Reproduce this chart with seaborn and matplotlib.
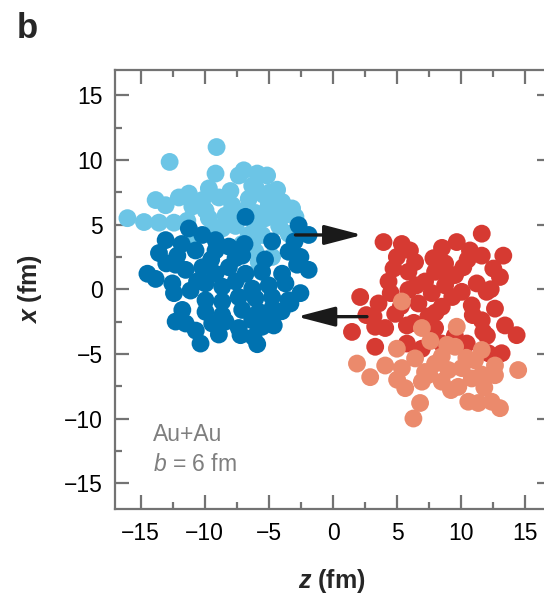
import numpy as np
import pandas as pd
import matplotlib
matplotlib.use("Agg")
import matplotlib.pyplot as plt
from matplotlib.ticker import MultipleLocator
import seaborn as sns

# ---- data (z, x in fm) ----
target_spec_z = [-9.08, -12.74, -9.16, -7.35, -6.96, -5.91, -5.14, -6.30, -4.36, -9.68,
                 -12.02, -11.24, -13.83, -13.05, -10.19, -8.90, -7.86, -6.57, -5.40, -5.01,
                 -3.97, -3.19, -10.97, -9.94, -16.03, -14.74, -13.57, -12.40, -11.36, -9.68,
                 -8.38, -7.21, -6.05, -4.62, -3.84, -2.93, -8.64, -6.05, -5.27, -3.46,
                 -6.57, -5.53, -10.97, -7.08, -6.05, -4.75, -5.79, -6.30,
                 -8.0, -6.0, -4.9, -7.6, -9.3, -4.2]
target_spec_x = [11.0, 9.85, 8.95, 8.8, 9.2, 8.95, 8.8, 8.0, 7.7, 7.8,
                 7.1, 7.4, 6.9, 6.5, 6.9, 7.1, 6.5, 7.0, 7.3, 6.5,
                 6.75, 6.25, 6.4, 6.1, 5.5, 5.2, 5.15, 5.15, 5.3, 5.5,
                 5.7, 6.0, 5.9, 6.1, 5.7, 5.6, 4.7, 4.95, 5.5, 4.3,
                 4.2, 4.2, 3.5, 3.5, 2.9, 2.5, 2.1, 3.4,
                 7.6, 7.8, 7.5, 4.9, 4.8, 4.9]

target_part_z = [-6.82, -2.68, -11.24, -10.19, -13.05, -9.16, -4.75, -1.90,
                 -13.57, -12.14, -10.72, -9.16, -8.12, -7.08, -3.46, -2.54,
                 -14.47, -13.83, -12.27, -11.49, -10.19, -9.16, -8.12, -6.82, -5.53, -3.97, -2.80, -1.90,
                 -12.53, -12.40, -11.11, -9.94, -8.64, -7.60, -6.30, -5.01, -3.71, -2.54,
                 -9.94, -8.64, -7.35, -6.05, -4.75, -3.46,
                 -11.75, -9.94, -8.64, -7.08, -5.79, -4.75,
                 -12.27, -11.49, -9.42, -8.38, -7.35, -6.30, -5.53, -4.62,
                 -7.21, -10.33, -5.91, -3.32, -4.88,
                 -10.6, -6.9, -5.3, -8.9, -6.2, -10.7, -4.0, -7.6, -9.5, -11.8, -13.0, -3.0]
target_part_x = [5.6, 4.95, 4.7, 4.2, 3.8, 3.8, 3.7, 4.2,
                 2.8, 2.6, 3.0, 3.0, 3.3, 2.6, 2.9, 2.5,
                 1.2, 0.8, 1.9, 1.5, 1.7, 1.2, 1.7, 1.2, 1.35, 1.2, 1.9, 1.5,
                 0.45, -0.3, -0.1, 0.45, 0.2, 0.6, 0.05, 0.3, 0.45, -0.3,
                 -0.85, -0.95, -0.6, -0.7, -0.6, -0.85,
                 -1.6, -1.75, -2.0, -1.6, -1.75, -1.5,
                 -2.5, -2.65, -2.65, -2.5, -3.0, -2.4, -2.9, -2.8,
                 -3.55, -4.2, -4.25, -1.1, -2.1,
                 0.6, 3.5, 2.3, -3.5, -3.7, -3.2, -1.7, 2.4, 2.3, 3.5, 2.0, 3.7]

proj_part_z = [3.94, 5.37, 9.65, 11.60, 10.68, 11.60, 13.28, 4.98, 6.40, 7.83,
               8.74, 10.16, 4.72, 5.88, 7.96, 9.52, 13.02, 4.33, 7.18, 8.74,
               11.21, 11.98, 5.88, 7.70, 10.04, 2.12, 3.55, 6.66, 8.48, 10.82,
               12.63, 3.16, 4.85, 7.44, 11.60, 13.41,
               1.48, 3.29, 4.07, 5.76, 7.96, 11.72, 14.32, 3.29, 5.76, 8.48, 10.43, 12.11, 13.15, 6.93,
               6.0, 8.5, 9.0, 10.5, 12.5, 12.3, 6.5, 4.5, 9.3, 10.9, 8.0, 5.3, 6.3, 12.0, 9.5, 2.6]
proj_part_x = [3.65, 3.5, 3.65, 4.3, 3.0, 2.6, 2.6, 2.5, 2.1, 2.4,
               2.0, 1.7, 1.6, 1.35, 1.35, 1.1, 0.95, 0.6, 0.6, 0.3,
               0.45, -0.2, -0.05, -0.3, -0.2, -0.6, -1.1, -1.1, -1.35, -1.25,
               -1.5, -2.1, -1.9, -2.1, -2.4, -2.8,
               -3.3, -2.9, -3.0, -2.8, -3.0, -3.3, -3.55, -4.45, -4.2, -4.2, -4.2, -4.95, -4.95, -4.6,
               3.0, 3.2, 0.9, 2.3, 1.6, 0.0, 0.3, -0.3, -0.6, -2.0, -1.8, -1.3, -2.6, -3.6, -3.6, -2.0]

proj_spec_z = [5.37, 9.65, 6.93, 4.98, 1.87, 2.90, 4.07, 5.37, 6.40, 7.18,
               8.48, 9.52, 10.04, 11.07, 11.60, 12.63, 14.44, 12.63, 5.63, 6.93,
               8.48, 9.77, 10.82, 6.79, 10.55, 11.33, 12.37, 13.02, 6.27, 9.00, 7.96,
               7.6, 7.5, 5.0, 9.2, 11.8, 10.4, 11.6, 8.9]
proj_spec_x = [-0.95, -2.9, -3.0, -4.6, -5.75, -6.8, -5.9, -6.1, -5.35, -6.4,
               -5.2, -4.45, -6.1, -5.5, -4.7, -5.9, -6.25, -6.65, -7.65, -7.15,
               -7.15, -7.55, -6.9, -8.8, -8.7, -8.8, -8.7, -9.2, -10.0, -6.25, -5.75,
               -4.0, -6.6, -7.0, -7.8, -7.6, -5.3, -6.6, -4.3]

groups = ["target spectator", "target participant", "projectile participant", "projectile spectator"]
colors = ["#6cc5e6", "#0072b0", "#d63a32", "#eb8a6c"]
ticks = [-15, -10, -5, 0, 5, 10, 15]
annotation_lines = ["Au+Au", r"$\it{b}$ = 6 fm"]

frames = []
for g, zz, xx in zip(groups,
                     [target_spec_z, target_part_z, proj_part_z, proj_spec_z],
                     [target_spec_x, target_part_x, proj_part_x, proj_spec_x]):
    frames.append(pd.DataFrame({"z": zz, "x": xx, "group": g}))
df = pd.concat(frames, ignore_index=True)

sns.set_style("ticks")
plt.rcParams["font.family"] = ["Liberation Sans", "DejaVu Sans"]
plt.rcParams["mathtext.fontset"] = "custom"
plt.rcParams["mathtext.it"] = "Liberation Sans:italic"
plt.rcParams["mathtext.rm"] = "Liberation Sans"
plt.rcParams["mathtext.bf"] = "Liberation Sans:bold"
plt.rcParams["mathtext.bfit"] = "Liberation Sans:bold:italic"

fig = plt.figure(figsize=(5.44, 6.02), dpi=100)
ax = fig.add_axes([115 / 544, (602 - 509) / 602, 436 / 544, 439.5 / 602])

sns.scatterplot(data=df, x="z", y="x", hue="group", hue_order=groups,
                palette=colors, s=165, linewidth=0, alpha=1.0,
                legend=False, ax=ax, zorder=3)

ax.set_xlim(-17, 17)
ax.set_ylim(-17, 17)
ax.set_xticks(ticks)
ax.set_yticks(ticks)
ax.xaxis.set_minor_locator(MultipleLocator(2.5))
ax.yaxis.set_minor_locator(MultipleLocator(2.5))

spine_col = "#737373"
for sp in ax.spines.values():
    sp.set_visible(True)
    sp.set_color(spine_col)
    sp.set_linewidth(1.6)
ax.tick_params(which="both", direction="in", top=True, right=True,
               color=spine_col, width=1.6, labelsize=16.5, labelcolor="black")
ax.tick_params(which="major", length=10, pad=9)
ax.tick_params(which="minor", length=5)

ax.set_xlabel(r"$\mathbfit{z}$ (fm)", fontsize=18, fontweight="bold")
ax.set_ylabel(r"$\mathbfit{x}$ (fm)", fontsize=18, fontweight="bold")
ax.xaxis.set_label_coords(0.498, -0.164)
ax.xaxis.label.set_va("center")
ax.yaxis.set_label_coords(-0.195, 0.5)
ax.yaxis.label.set_va("center")

# arrows showing motion of the nuclei
arrow_kw = dict(arrowstyle="-|>,head_length=2.3,head_width=0.6", color="#1a1a1a",
                lw=2.4, shrinkA=0, shrinkB=0, mutation_scale=10)
ax.annotate("", xy=(2.28, 4.2), xytext=(-2.93, 4.2), arrowprops=arrow_kw, zorder=4)
ax.annotate("", xy=(-2.8, -2.12), xytext=(2.65, -2.12), arrowprops=arrow_kw, zorder=4)

ax.text(-14.06, -11.2, annotation_lines[0], fontsize=16.5, color="#7f7f7f",
        ha="left", va="center")
ax.text(-14.0, -13.55, annotation_lines[1], fontsize=16.5, color="#7f7f7f",
        ha="left", va="center")

fig.text(17 / 544, 1 - 28 / 602, "b", fontsize=25, fontweight="bold",
         ha="left", va="center")

fig.savefig("out.png", dpi=100)
